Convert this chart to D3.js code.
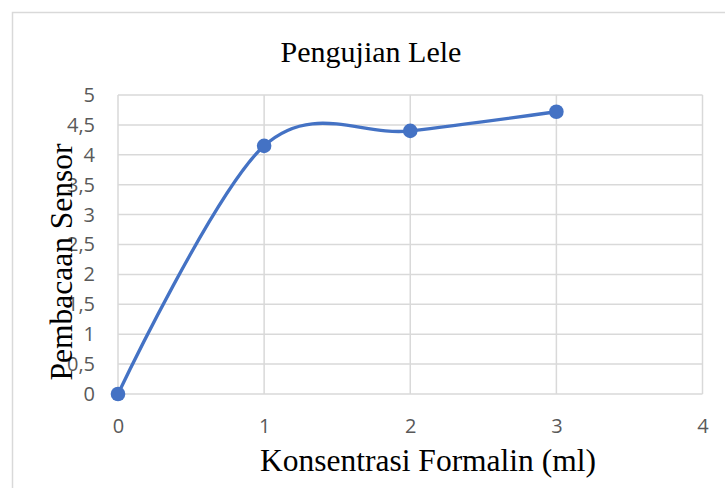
<!DOCTYPE html>
<html>
<head>
<meta charset="utf-8">
<script src="https://cdn.jsdelivr.net/npm/d3@7"></script>
<style>
  html, body { margin: 0; padding: 0; background: #fff; }
  svg { display: block; }
</style>
</head>
<body>
<svg id="chart" width="725" height="488"></svg>
<script>
const titleText = "Pengujian Lele";
const xLabelText = "Konsentrasi Formalin (ml)";
const yLabelText = "Pembacaan Sensor";
const xValues = [0, 1, 2, 3];
const yValues = [0, 4.15, 4.4, 4.72];
const xTicks = [0, 1, 2, 3, 4];
const yTicks = [0, 0.5, 1, 1.5, 2, 2.5, 3, 3.5, 4, 4.5, 5];

const svg = d3.select("#chart");
const W = 725, H = 488;
const plot = { left: 118, right: 702.5, top: 95, bottom: 394 };

svg.append("rect").attr("width", W).attr("height", H).attr("fill", "#fff");
// outer chart border
svg.append("path")
  .attr("d", `M12.5,${H + 2} V12.5 H${W + 2}`)
  .attr("fill", "none").attr("stroke", "#d9d9d9").attr("stroke-width", 1.5);

const x = d3.scaleLinear().domain([0, 4]).range([plot.left, plot.right]);
const y = d3.scaleLinear().domain([0, 5]).range([plot.bottom, plot.top]);

const fmt = v => String(v).replace(".", ",");
const tickFont = "'Open Sans', 'Liberation Sans', sans-serif";

// gridlines
const grid = svg.append("g");
grid.selectAll("line.h").data(yTicks).join("line")
  .attr("x1", plot.left).attr("x2", plot.right)
  .attr("y1", d => y(d)).attr("y2", d => y(d))
  .attr("stroke", "#d9d9d9").attr("stroke-width", 1.5);
grid.selectAll("line.v").data(xTicks).join("line")
  .attr("y1", plot.top).attr("y2", plot.bottom)
  .attr("x1", d => x(d)).attr("x2", d => x(d))
  .attr("stroke", "#d9d9d9").attr("stroke-width", 1.5);

// y axis labels
const yAxis = d3.axisLeft(y).tickValues(yTicks).tickFormat(fmt).tickSize(0).tickPadding(0);
const gy = svg.append("g").attr("transform", `translate(${plot.left - 23},0)`).call(yAxis);
gy.select(".domain").remove();
gy.selectAll("text")
  .attr("font-family", tickFont)
  .attr("font-size", 20).attr("fill", "#595959");

// x axis labels
const xAxis = d3.axisBottom(x).tickValues(xTicks).tickFormat(fmt).tickSize(0).tickPadding(0);
const gx = svg.append("g").attr("transform", `translate(0,${plot.bottom + 25})`).call(xAxis);
gx.select(".domain").remove();
gx.selectAll("text")
  .attr("font-family", tickFont)
  .attr("font-size", 20).attr("fill", "#595959");

// line
const pts = xValues.map((v, i) => [v, yValues[i]]);
const line = d3.line().x(d => x(d[0])).y(d => y(d[1])).curve(d3.curveCardinal.tension(0));
svg.append("path").datum(pts)
  .attr("d", line).attr("fill", "none")
  .attr("stroke", "#4472c4").attr("stroke-width", 3.3).attr("stroke-linecap", "round");

svg.selectAll("circle.pt").data(pts).join("circle")
  .attr("cx", d => x(d[0])).attr("cy", d => y(d[1])).attr("r", 7.3)
  .attr("fill", "#4472c4");

// title and axis titles
svg.append("text").text(titleText)
  .attr("x", 371).attr("y", 62).attr("text-anchor", "middle")
  .attr("font-family", "'Liberation Serif', 'Times New Roman', serif")
  .attr("font-size", 30).attr("fill", "#000");

svg.append("text").text(xLabelText)
  .attr("x", 428).attr("y", 471).attr("text-anchor", "middle")
  .attr("font-family", "'Liberation Serif', 'Times New Roman', serif")
  .attr("font-size", 31.5).attr("fill", "#000");

svg.append("text").text(yLabelText)
  .attr("transform", "translate(72,262) rotate(-90)")
  .attr("text-anchor", "middle")
  .attr("font-family", "'Liberation Serif', 'Times New Roman', serif")
  .attr("font-size", 31.5).attr("fill", "#000");
</script>
</body>
</html>
